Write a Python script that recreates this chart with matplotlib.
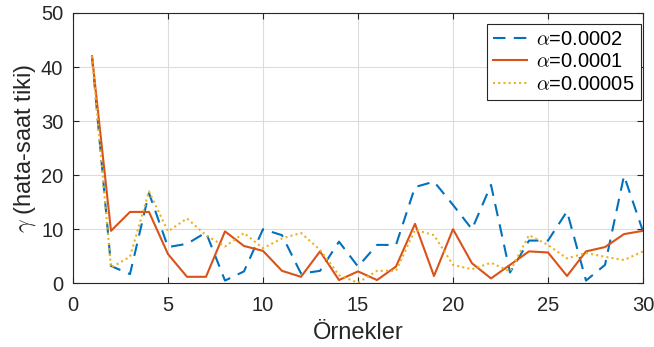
import numpy as np
import matplotlib
matplotlib.use("Agg")
import matplotlib.pyplot as plt

plt.rcParams["font.family"] = ["Liberation Sans", "DejaVu Sans"]
plt.rcParams["mathtext.fontset"] = "cm"

samples = np.arange(1, 31)

gamma_a0002 = [42.0, 3.2, 1.7, 16.7, 6.7, 7.3, 9.4, 0.5, 2.2, 10.0,
               8.9, 1.8, 2.3, 7.7, 3.1, 7.1, 7.1, 17.8, 18.8, 14.5,
               10.0, 18.2, 2.0, 7.9, 7.9, 13.3, 0.5, 3.4, 19.9, 9.6]
gamma_a0001 = [42.0, 9.7, 13.2, 13.2, 5.4, 1.2, 1.2, 9.6, 6.9, 6.0,
               2.3, 1.2, 5.9, 0.6, 2.2, 0.6, 3.1, 11.0, 1.35, 10.0,
               3.7, 0.9, 3.4, 5.9, 5.7, 1.35, 5.9, 6.7, 9.1, 9.7]
gamma_a00005 = [42.0, 2.9, 4.9, 17.0, 9.6, 12.0, 8.9, 6.8, 9.3, 6.5,
                8.3, 9.3, 6.2, 1.5, 0.1, 2.3, 2.3, 9.9, 8.9, 3.4,
                2.6, 3.8, 2.2, 8.9, 7.1, 4.6, 5.6, 4.9, 4.3, 5.9]

series = [
  (gamma_a0002, r"$\alpha$=0.0002", "#0072BD", (0, (6, 4))),
  (gamma_a0001, r"$\alpha$=0.0001", "#D95319", "-"),
  (gamma_a00005, r"$\alpha$=0.00005", "#EDB120", (0, (1, 1.5))),
]

fig = plt.figure(figsize=(6.54, 3.47), dpi=100)
ax = fig.add_axes([0.1116, 0.1836, 0.8716, 0.779])

for vals, label, color, ls in series:
  ax.plot(samples, vals, color=color, linestyle=ls, linewidth=1.5, label=label)

ax.set_xlim(0, 30)
ax.set_ylim(0, 50)
ax.set_xticks(np.arange(0, 31, 5))
ax.set_yticks(np.arange(0, 51, 10))
ax.grid(True, color="#dcdcdc", linewidth=0.8)
ax.set_axisbelow(True)
for sp in ax.spines.values():
  sp.set_color("#262626")
  sp.set_linewidth(0.8)
ax.tick_params(direction="in", top=True, right=True, labelsize=14.5,
               colors="#262626", length=4)
ax.tick_params(axis="x", pad=9)
ax.tick_params(axis="y", pad=7)
ax.set_xlabel("Örnekler", fontsize=17, color="#262626", labelpad=5)
ax.set_ylabel(r"$\gamma$ (hata-saat tiki)", fontsize=17, color="#262626", labelpad=2)

leg = ax.legend(loc="upper right", fontsize=14.5, fancybox=False, framealpha=1,
                edgecolor="#262626", handlelength=1.7, borderpad=0.3,
                labelspacing=0.18, handletextpad=0.45, borderaxespad=0,
                bbox_to_anchor=(0.996, 0.96))
leg.get_frame().set_linewidth(0.8)

fig.savefig("out.png", dpi=100)
